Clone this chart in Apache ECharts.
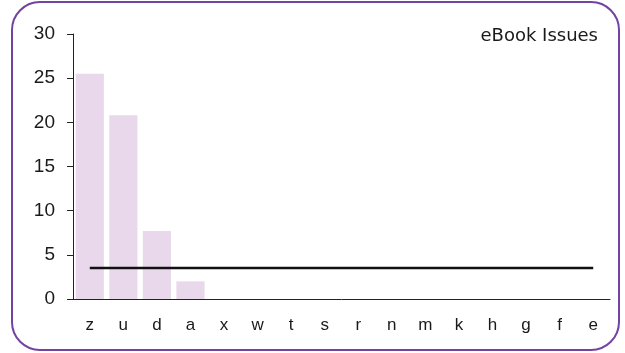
<!DOCTYPE html>
<html>
<head>
<meta charset="utf-8">
<script src="https://cdn.jsdelivr.net/npm/echarts@6/dist/echarts.min.js"></script>
<style>
  html, body { margin: 0; padding: 0; background: #fff; }
  #main { width: 625px; height: 353px; }
</style>
</head>
<body>
<div id="main"></div>
<script>
var categories = ['z', 'u', 'd', 'a', 'x', 'w', 't', 's', 'r', 'n', 'm', 'k', 'h', 'g', 'f', 'e']
var issueCounts = [25.5, 20.8, 7.7, 2.0, 0, 0, 0, 0, 0, 0, 0, 0, 0, 0, 0, 0]
var averageLine = [3.5, 3.5, 3.5, 3.5, 3.5, 3.5, 3.5, 3.5, 3.5, 3.5, 3.5, 3.5, 3.5, 3.5, 3.5, 3.5]
var yTicks = { min: 0, max: 30, interval: 5 }

var chart = echarts.init(document.getElementById('main'))
var option = {
  animation: false,
  textStyle: { fontFamily: 'Liberation Sans' },
  title: {
    text: 'eBook Issues',
    right: 22,
    top: 22,
    textStyle: {
      fontFamily: 'DejaVu Sans',
      fontSize: 18,
      fontWeight: 'normal',
      color: '#1a1a1a'
    }
  },
  graphic: [{
    type: 'rect',
    shape: { x: 12, y: 2, width: 607, height: 348, r: 28 },
    style: { fill: 'none', stroke: '#7442a0', lineWidth: 2 },
    silent: true
  }],
  grid: {
    left: 73,
    right: 15,
    top: 34,
    bottom: 54
  },
  xAxis: {
    type: 'category',
    data: categories,
    axisTick: { show: false },
    axisLine: { lineStyle: { color: '#222', width: 1 } },
    axisLabel: { color: '#1a1a1a', fontSize: 17, margin: 18 }
  },
  yAxis: {
    type: 'value',
    min: yTicks.min,
    max: yTicks.max,
    interval: yTicks.interval,
    splitLine: { show: false },
    axisLine: { show: true, lineStyle: { color: '#222', width: 1 } },
    axisTick: { show: true, length: 6, lineStyle: { color: '#222' } },
    axisLabel: { color: '#1a1a1a', fontSize: 19, margin: 18 }
  },
  series: [{
    type: 'bar',
    data: issueCounts,
    barCategoryGap: '16%',
    itemStyle: { color: '#e9d8eb' }
  }, {
    type: 'line',
    data: averageLine,
    showSymbol: false,
    lineStyle: { color: '#111', width: 2.5 }
  }]
}
chart.setOption(option)
</script>
</body>
</html>
